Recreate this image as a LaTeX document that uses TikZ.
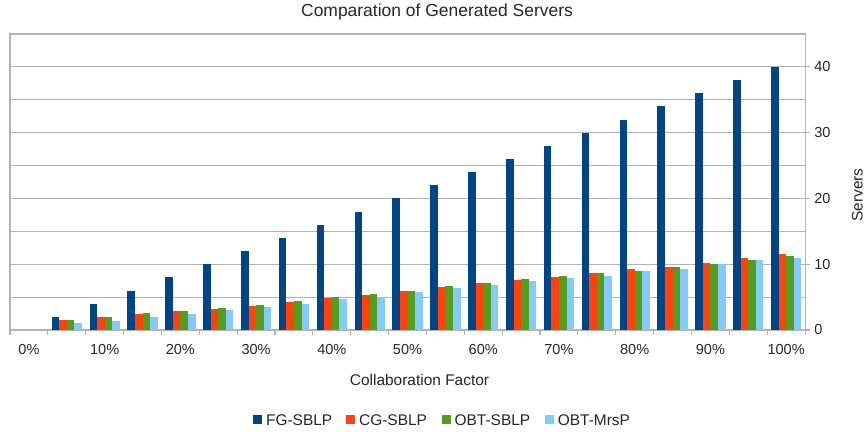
\documentclass[tikz,border=0pt]{standalone}
\usepackage{fontspec}
\setmainfont{Liberation Sans}
\usetikzlibrary{positioning}

\definecolor{fgblue}{HTML}{004586}
\definecolor{cgred}{HTML}{FF420E}
\definecolor{obtgreen}{HTML}{579D1C}
\definecolor{mrspblue}{HTML}{83CAFF}
\definecolor{gridgray}{HTML}{B3B3B3}

\begin{document}
\begin{tikzpicture}[
        x=0.03cm, y=0.03cm,
        grid/.style = {draw=gridgray, line width=0.9pt},
        ticklabel/.style = {inner sep=0pt, text=black!85, font=\fontsize{12.4}{14}\selectfont},
        axistitle/.style = {inner sep=0pt, text=black!85, font=\fontsize{13.2}{15}\selectfont},
        legendkey/.style = {rectangle, minimum size=0.27cm, inner sep=0pt, draw=none},
        legendtext/.style = {inner sep=0pt, text=black!85, font=\fontsize{13.2}{15}\selectfont}
    ]
    \useasboundingbox (0,0) rectangle (867,432);

    % ================= TITLE =================
    \node[anchor=base, inner sep=0pt, text=black!85, font=\fontsize{14.9}{17}\selectfont] (title) at (437,415.3) {Comparation of Generated Servers};

    % ================= PLOT AREA: one unit per category, one unit per server =================
    \begin{scope}[shift={(10,102)}, x=1.1357cm, y=0.19733cm]
        % grid and frame
        \foreach \v in {5,10,...,40}
            \draw[grid] (0,\v) -- (21,\v);
        \draw[grid] (0,0) rectangle (21,45);
        % ticks
        \foreach \k in {0,...,21}
            \draw[grid] (\k,0) -- ++(0,-0.15cm);
        \foreach \v in {0,10,...,40}
            \draw[grid] (21,\v) -- ++(0.15cm,0);

        % bars: category / FG-SBLP / CG-SBLP / OBT-SBLP / OBT-MrsP
        \foreach \k/\fg/\cg/\obt/\mrs in {
                1/2/1.5/1.5/1.1, 2/4/2.0/2.0/1.4, 3/6/2.45/2.6/2.0, 4/8/2.9/2.9/2.45,
                5/10/3.2/3.4/3.1, 6/12/3.7/3.8/3.5, 7/14/4.2/4.35/4.0, 8/16/4.8/4.95/4.65,
                9/18/5.25/5.4/5.05, 10/20/5.87/6.0/5.7, 11/22/6.48/6.63/6.33, 12/24/7.1/7.1/6.8,
                13/26/7.55/7.7/7.4, 14/28/8.0/8.16/7.85, 15/30/8.6/8.6/8.27, 16/32/9.2/9.0/8.9,
                17/34/9.65/9.65/9.3, 18/36/10.26/10.1/10.0, 19/38/10.9/10.7/10.6, 20/40/11.5/11.3/11.0} {
            \fill[fgblue] (\k+0.1,0) rectangle (\k+0.3,\fg);
            \fill[cgred] (\k+0.3,0) rectangle (\k+0.5,\cg);
            \fill[obtgreen] (\k+0.5,0) rectangle (\k+0.7,\obt);
            \fill[mrspblue] (\k+0.7,0) rectangle (\k+0.9,\mrs);
        }

        % tick labels
        \foreach \k/\p in {0/0,2/10,4/20,6/30,8/40,10/50,12/60,14/70,16/80,18/90,20/100}
            \node[ticklabel, anchor=base] (xlab\p) at ([yshift=-0.75cm]\k+0.5,0) {\p\%};
        \foreach \v in {0,10,...,40}
            \node[ticklabel, anchor=west] (ylab\v) at ([xshift=0.27cm]21,\v) {\v};
    \end{scope}

    % ================= AXIS TITLES =================
    \node[axistitle, anchor=base, rotate=90] (ytitle) at (862.5,237) {Servers};
    \node[axistitle, anchor=base] (xtitle) at (419.5,46) {Collaboration Factor};

    % ================= LEGEND =================
    \node[legendkey, fill=fgblue] (keyfg) at (257.8,12) {};
    \node[legendtext, right=0.1cm of keyfg] (labfg) {FG-SBLP};
    \node[legendkey, fill=cgred] (keycg) at (350.8,12) {};
    \node[legendtext, right=0.1cm of keycg] (labcg) {CG-SBLP};
    \node[legendkey, fill=obtgreen] (keyobt) at (446.3,12) {};
    \node[legendtext, right=0.1cm of keyobt] (labobt) {OBT-SBLP};
    \node[legendkey, fill=mrspblue] (keymrs) at (549.5,12) {};
    \node[legendtext, right=0.1cm of keymrs] (labmrs) {OBT-MrsP};

\end{tikzpicture}
\end{document}
